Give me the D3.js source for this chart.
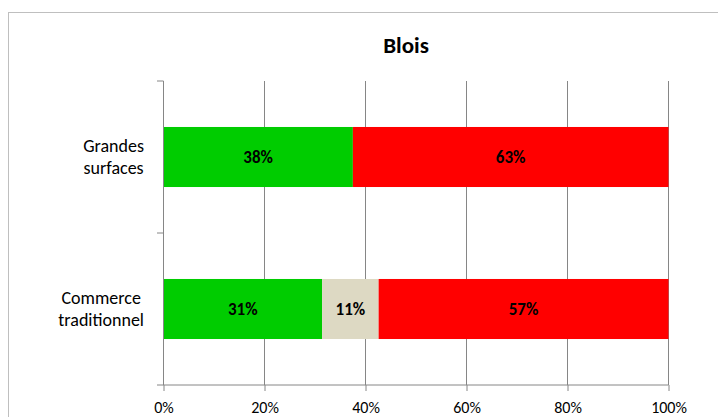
<!DOCTYPE html>
<html><head><meta charset="utf-8">
<script src="https://cdn.jsdelivr.net/npm/d3@7"></script>
<style>body{margin:0;background:#fff}svg{display:block}text{font-family:Carlito,Calibri,Lato,sans-serif}</style>
</head><body>
<svg id="c" width="718" height="417"></svg>
<script>
const categories = [["Grandes","surfaces"],["Commerce","traditionnel"]];
const seriesNames = ["Favorable","Neutre","Défavorable"];
const seriesColors = ["#00CC00","#DDD9C3","#FF0000"];
const values = [
  [37.5, 0, 62.5],
  [31.4, 11.2, 57.4]
];
const tickValues = [0,20,40,60,80,100];
const title = "Blois";

const svg = d3.select("#c");
const W = 718, H = 417;
const m = {left:163.5, right:718-668.5, top:81, bottom:417-385};

svg.append("rect").attr("x",8.5).attr("y",12.5).attr("width",W+10).attr("height",H+10)
  .attr("fill","#fff").attr("stroke","#BFBFBF");

const x = d3.scaleLinear().domain([0,100]).range([m.left, W-m.right]);
const y = d3.scaleBand().domain(d3.range(categories.length)).range([m.top, H-m.bottom]).paddingInner(0.605).paddingOuter(0.3025);

const grid = "#868686";
svg.append("g").selectAll("line").data(tickValues.slice(1)).join("line")
  .attr("x1",d=>x(d)).attr("x2",d=>x(d)).attr("y1",m.top).attr("y2",H-m.bottom)
  .attr("stroke",grid).attr("stroke-width",1);

const stacked = values.map(row=>{let acc=0;return row.map((v,i)=>{const s={x0:acc,x1:acc+v,v,i};acc+=v;return s;});});
stacked.forEach((row,ci)=>{
  const g = svg.append("g");
  row.filter(s=>s.v>0).forEach(s=>{
    g.append("rect").attr("x",x(s.x0)).attr("width",x(s.x1)-x(s.x0))
     .attr("y",y(ci)).attr("height",y.bandwidth()).attr("fill",seriesColors[s.i]);
    g.append("text").attr("x",(x(s.x0)+x(s.x1))/2).attr("y",y(ci)+y.bandwidth()/2)
     .attr("dy","0.35em").attr("text-anchor","middle").attr("font-weight","bold")
     .attr("font-size",17).attr("fill","#000").text(Math.round(s.v)+"%");
  });
});

const xa = svg.append("g").attr("transform",`translate(0,${H-m.bottom})`)
  .call(d3.axisBottom(x).tickValues(tickValues).tickFormat(d=>d+"%").tickSize(6).tickSizeOuter(0));
xa.select(".domain").remove();
xa.selectAll(".tick line").attr("stroke",grid);
xa.selectAll(".tick text").attr("font-size",16).attr("fill","#000").attr("dy","0").attr("y",28)
  .style("font-family","Carlito,Calibri,Lato,sans-serif");
svg.append("line").attr("x1",m.left-6.5).attr("x2",W-m.right).attr("y1",H-m.bottom).attr("y2",H-m.bottom).attr("stroke",grid);

svg.append("line").attr("x1",m.left).attr("x2",m.left).attr("y1",m.top).attr("y2",H-m.bottom).attr("stroke",grid);
const bounds = [m.top, (m.top+H-m.bottom)/2];
svg.append("g").selectAll("line").data(bounds).join("line")
  .attr("x1",m.left-6.5).attr("x2",m.left).attr("y1",d=>d).attr("y2",d=>d).attr("stroke",grid);

categories.forEach((lines,ci)=>{
  const cy = y(ci)+y.bandwidth()/2;
  const t = svg.append("text").attr("text-anchor","middle").attr("font-size",18).attr("fill","#000");
  lines.forEach((l,li)=>t.append("tspan").attr("x",0).attr("y",cy+(li-(lines.length-1)/2)*22).attr("dy","0.35em").text(l));
  const w = t.node().getBBox().width;
  t.selectAll("tspan").attr("x",144-w/2);
});

svg.append("text").attr("x",406).attr("y",53).attr("text-anchor","middle").attr("font-weight","bold")
  .attr("font-size",23).attr("fill","#000").text(title);
</script>
</body></html>
